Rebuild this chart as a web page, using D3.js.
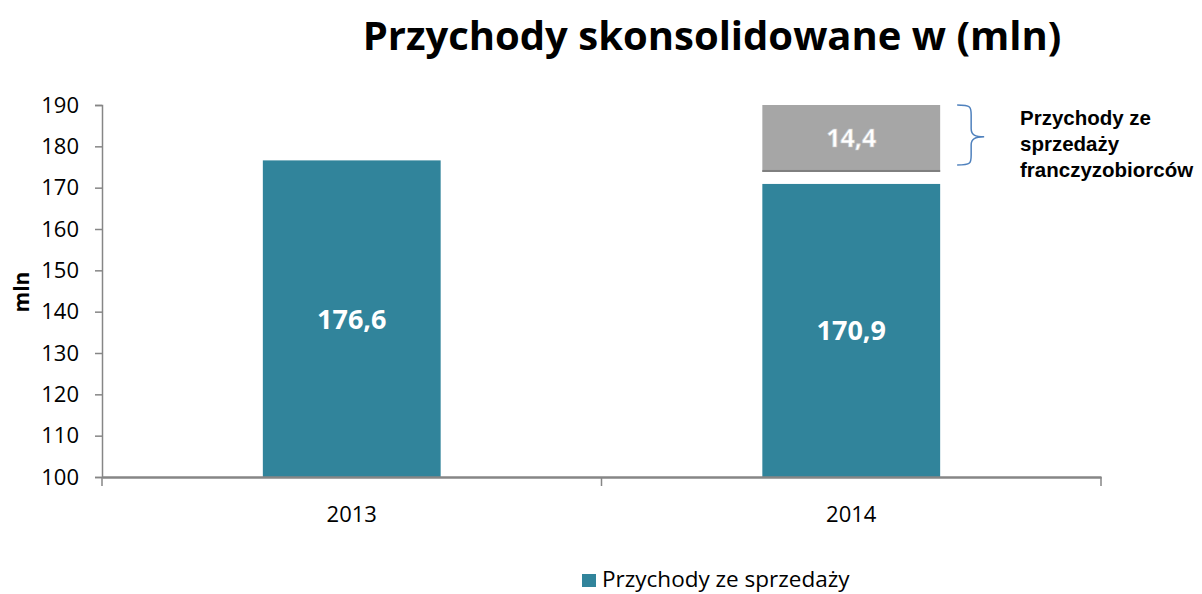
<!DOCTYPE html>
<html>
<head>
<meta charset="utf-8">
<script src="https://cdn.jsdelivr.net/npm/d3@7"></script>
<style>
  body { margin: 0; background: #fff; }
  svg { display: block; }
</style>
</head>
<body>
<div id="wrapper"></div>
<script>
const years = ["2013", "2014"]
const salesRevenue = [176.6, 170.9]
const franchiseRevenue = [null, 14.4]
// the grey block as it sits in the picture: detached from the teal bar, running to the top of the axis
const franchiseBase = [null, 173.8]
const yTicks = [100, 110, 120, 130, 140, 150, 160, 170, 180, 190]
const noteLines = ["Przychody ze", "sprzedaży", "franczyzobiorców"]
const fmt = v => String(v).replace(".", ",")

const dimensions = {
  width: 1202,
  height: 594,
  margin: { top: 105, right: 101, bottom: 117, left: 102 }
}
dimensions.boundedWidth = dimensions.width - dimensions.margin.left - dimensions.margin.right
dimensions.boundedHeight = dimensions.height - dimensions.margin.top - dimensions.margin.bottom

const svg = d3.select("#wrapper").append("svg")
    .attr("width", dimensions.width)
    .attr("height", dimensions.height)

const bounds = svg.append("g")
    .attr("transform", `translate(${dimensions.margin.left},${dimensions.margin.top})`)

const xScale = d3.scaleBand()
    .domain(years)
    .range([0, dimensions.boundedWidth])
    .paddingInner(0.644)
    .paddingOuter(0.322)

const yScale = d3.scaleLinear()
    .domain([100, 190])
    .range([dimensions.boundedHeight, 0])

const teal = "#31849b"
const axisColor = "#868686"

// title
svg.append("text")
    .attr("x", 712)
    .attr("y", 50)
    .attr("text-anchor", "middle")
    .attr("font-family", "Open Sans")
    .attr("font-weight", "bold")
    .attr("font-size", 40)
    .text("Przychody skonsolidowane w (mln)")

// teal bars
bounds.selectAll(".sales")
  .data(years)
  .join("rect")
    .attr("x", d => xScale(d))
    .attr("width", xScale.bandwidth())
    .attr("y", (d, i) => yScale(salesRevenue[i]))
    .attr("height", (d, i) => yScale(100) - yScale(salesRevenue[i]))
    .attr("fill", teal)

bounds.selectAll(".salesLabel")
  .data(years)
  .join("text")
    .attr("x", d => xScale(d) + xScale.bandwidth() / 2)
    .attr("y", (d, i) => (yScale(salesRevenue[i]) + yScale(100)) / 2 + 10)
    .attr("text-anchor", "middle")
    .attr("font-family", "Open Sans")
    .attr("font-weight", "bold")
    .attr("font-size", 27)
    .attr("fill", "#fff")
    .text((d, i) => fmt(salesRevenue[i]))

// grey franchise block
const franchise = years.map((d, i) => ({ year: d, base: franchiseBase[i], value: franchiseRevenue[i] }))
    .filter(d => d.value != null)

const blockTop = yScale.domain()[1]

bounds.selectAll(".franchise")
  .data(franchise)
  .join("rect")
    .attr("x", d => xScale(d.year))
    .attr("width", xScale.bandwidth())
    .attr("y", yScale(blockTop))
    .attr("height", d => yScale(d.base) - yScale(blockTop))
    .attr("fill", "#a6a6a6")

bounds.selectAll(".franchiseEdge")
  .data(franchise)
  .join("rect")
    .attr("x", d => xScale(d.year))
    .attr("width", xScale.bandwidth())
    .attr("y", d => yScale(d.base) - 2)
    .attr("height", 2)
    .attr("fill", "#7f7f7f")

bounds.selectAll(".franchiseLabel")
  .data(franchise)
  .join("text")
    .attr("x", d => xScale(d.year) + xScale.bandwidth() / 2)
    .attr("y", d => (yScale(d.base) + yScale(blockTop)) / 2 + 9)
    .attr("text-anchor", "middle")
    .attr("font-family", "Open Sans")
    .attr("font-weight", "bold")
    .attr("font-size", 25)
    .attr("fill", "#fff")
    .attr("stroke", "#c8c8c8")
    .attr("stroke-width", 0.6)
    .text(d => fmt(d.value))

// brace + note
franchise.forEach(d => {
  const x0 = xScale(d.year) + xScale.bandwidth() + 17
  const yTop = yScale(190)
  const yBot = yScale(d.base) - 7
  const yMid = yTop + (yBot - yTop) * 0.53
  bounds.append("path")
      .attr("d", `M${x0},${yTop} C${x0 + 14},${yTop} ${x0 + 14},${yTop + 2} ${x0 + 14},${yTop + 10}
                  L${x0 + 14},${yMid - 8} C${x0 + 14},${yMid - 2} ${x0 + 18},${yMid} ${x0 + 27},${yMid}
                  C${x0 + 18},${yMid} ${x0 + 14},${yMid + 2} ${x0 + 14},${yMid + 8}
                  L${x0 + 14},${yBot - 10} C${x0 + 14},${yBot - 2} ${x0 + 14},${yBot} ${x0},${yBot}`)
      .attr("fill", "none")
      .attr("stroke", "#4f81bd")
      .attr("stroke-width", 1.5)
})

const note = svg.append("text")
    .attr("font-family", "Liberation Sans")
    .attr("font-weight", "bold")
    .attr("font-size", 20.5);
noteLines.forEach((t, i) => {
  note.append("tspan").attr("x", 1020).attr("y", 125 + i * 26).text(t)
})

// axes
const yAxis = bounds.append("g")
    .call(d3.axisLeft(yScale).tickValues(yTicks).tickSize(7).tickPadding(16).tickFormat(d3.format("d")))
yAxis.select(".domain").attr("stroke", axisColor).attr("stroke-width", 1.5)
yAxis.selectAll(".tick line").attr("stroke", axisColor).attr("stroke-width", 1.5)
yAxis.selectAll(".tick text")
    .attr("font-family", "Open Sans")
    .attr("font-size", 22)
    .attr("fill", "#000")

const xAxis = bounds.append("g")
    .attr("transform", `translate(0,${dimensions.boundedHeight})`)
    .call(d3.axisBottom(xScale).tickSize(0).tickPadding(29))
xAxis.select(".domain").attr("stroke", axisColor).attr("stroke-width", 2.5)
xAxis.selectAll(".tick text")
    .attr("font-family", "Open Sans")
    .attr("font-size", 22)
    .attr("fill", "#000")

// category separators on x axis
const edges = [0, ...years.slice(1).map(d => xScale(d) - xScale.step() * xScale.paddingInner() / 2), dimensions.boundedWidth]
xAxis.selectAll(".sep")
  .data(edges)
  .join("line")
    .attr("x1", d => d).attr("x2", d => d)
    .attr("y1", 0).attr("y2", 9)
    .attr("stroke", axisColor)
    .attr("stroke-width", 1.5)

// y axis title
svg.append("text")
    .attr("transform", "translate(29,292) rotate(-90)")
    .attr("text-anchor", "middle")
    .attr("font-family", "Open Sans")
    .attr("font-weight", "bold")
    .attr("font-size", 21)
    .text("mln")

// legend
svg.append("rect")
    .attr("x", 582).attr("y", 574).attr("width", 14).attr("height", 13)
    .attr("fill", teal)
svg.append("text")
    .attr("x", 602).attr("y", 587)
    .attr("font-family", "Open Sans")
    .attr("font-size", 22.5)
    .text("Przychody ze sprzedaży")
</script>
</body>
</html>
